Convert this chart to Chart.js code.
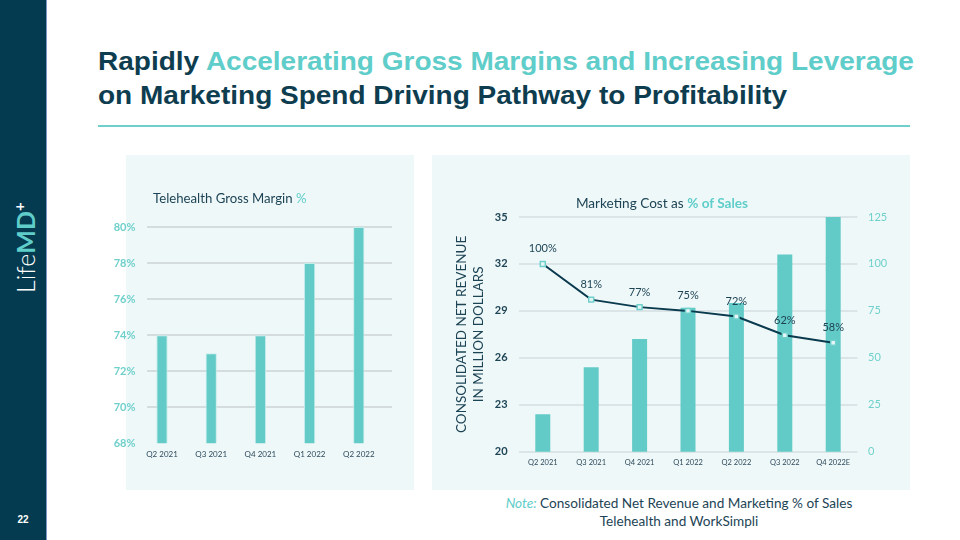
<!DOCTYPE html>
<html>
<head>
<meta charset="utf-8">
<script src="https://cdn.jsdelivr.net/npm/chart.js@4"></script>
<style>
  body{margin:0;width:960px;height:540px;background:#fff;position:relative;overflow:hidden;font-family:Lato,sans-serif;}
  .abs{position:absolute;}
  #side{left:0;top:0;width:46px;height:540px;background:#053b50;border-right:1px solid #7d97c4;}
  #logo{left:-28px;top:231px;width:100px;text-align:center;transform:rotate(-90deg);font-size:25px;line-height:28px;color:#fff;white-space:nowrap;}
  #logo .l{font-weight:300;}
  #logo .m{font-weight:700;color:#5fcdc9;}
  #logo sup{font-size:15px;font-weight:700;color:#fff;}
  #pg{left:0;top:514px;width:46px;text-align:center;color:#fff;font:bold 10px "Liberation Sans",Arial,sans-serif;}
  #title{left:98px;top:43.5px;font:bold 25px "Liberation Sans",Arial,sans-serif;line-height:34px;color:#0e3d50;white-space:nowrap;transform:scaleX(1.12);transform-origin:0 0;}
  .teal{color:#5fcdc9;}
  #rule{left:98px;top:125px;width:812px;height:2px;background:#6fcfcb;}
  .panel{background:#eff8f9;}
  #p1{left:126px;top:155px;width:288px;height:335px;}
  #p2{left:432px;top:155px;width:478px;height:335px;}
  #c1wrap{left:100px;top:155px;width:314px;height:335px;}
  #c2wrap{left:432px;top:155px;width:478px;height:335px;}
  #t1{left:153px;top:190px;font-size:13.2px;line-height:16px;color:#1d4455;white-space:nowrap;}
  #t2{left:542px;top:195px;width:240px;text-align:center;font-size:13.6px;line-height:16px;color:#1d4455;white-space:nowrap;}
  #t2 .teal{font-weight:700;}
  #note{left:459px;top:494px;width:440px;text-align:center;font-size:13.6px;line-height:18px;color:#1d4455;}
  #note i{color:#5fcdc9;}
</style>
</head>
<body>
<div id="side" class="abs"></div>
<div id="logo" class="abs"><span class="l">Life</span><span class="m">MD</span><sup>+</sup></div>
<div id="pg" class="abs">22</div>
<div id="title" class="abs">Rapidly <span class="teal">Accelerating Gross Margins and Increasing Leverage</span><br>on Marketing Spend Driving Pathway to Profitability</div>
<div id="rule" class="abs"></div>
<div id="p1" class="abs panel"></div>
<div id="p2" class="abs panel"></div>
<div id="c1wrap" class="abs"><canvas id="marginChart"></canvas></div>
<div id="c2wrap" class="abs"><canvas id="marketingChart"></canvas></div>
<div id="t1" class="abs">Telehealth Gross Margin <span class="teal">%</span></div>
<div id="t2" class="abs">Marketing Cost as <span class="teal">% of Sales</span></div>
<div id="note" class="abs"><i>Note:</i> Consolidated Net Revenue and Marketing % of Sales<br>Telehealth and WorkSimpli</div>
<script>
// chart values
const marginQuarters = ['Q2 2021', 'Q3 2021', 'Q4 2021', 'Q1 2022', 'Q2 2022'];
const grossMargin = [74, 73, 74, 78, 80];

const revenueQuarters = ['Q2 2021', 'Q3 2021', 'Q4 2021', 'Q1 2022', 'Q2 2022', 'Q3 2022', 'Q4 2022E'];
const netRevenue = [22.4, 25.4, 27.2, 29.2, 29.5, 32.6, 35];
const marketingPct = [100, 81, 77, 75, 72, 62, 58];

const teal = '#63cbc7';
const dark = '#1d4455';

// grid lines for the margin chart sit a bit to the right of the bars
const offsetGrid = {
    id: 'offsetGrid',
    beforeDatasetsDraw(chart, args, opts){
        const {ctx, chartArea, scales: {y}} = chart;
        ctx.save();
        ctx.strokeStyle = opts.color;
        ctx.lineWidth = opts.width;
        y.ticks.forEach(t => {
            if (t.value <= y.min) return;
            const py = Math.round(y.getPixelForValue(t.value));
            ctx.beginPath();
            ctx.moveTo(chartArea.left + opts.shiftLeft, py);
            ctx.lineTo(chartArea.right + opts.shiftRight, py);
            ctx.stroke();
        });
        ctx.restore();
    }
};

// percent labels above the line points
const pointLabels = {
    id: 'pointLabels',
    afterDatasetsDraw(chart){
        const {ctx} = chart;
        const meta = chart.getDatasetMeta(1);
        ctx.save();
        ctx.font = '11px Lato';
        ctx.fillStyle = dark;
        ctx.textAlign = 'center';
        ctx.textBaseline = 'middle';
        meta.data.forEach((pt, i) => {
            ctx.fillText(marketingPct[i] + '%', pt.x, pt.y - 15);
        });
        ctx.restore();
    }
};

new Chart(document.getElementById('marginChart'), {
    type: 'bar',
    data: {
        labels: marginQuarters,
        datasets: [{
            data: grossMargin,
            backgroundColor: teal,
            borderColor: '#c4ecea',
            borderWidth: 1,
            categoryPercentage: 1,
            barPercentage: 0.23
        }]
    },
    options: {
        responsive: true,
        maintainAspectRatio: false,
        animation: false,
        layout: {padding: {top: 72, right: 30.6, left: 0, bottom: 0}},
        plugins: {
            legend: {display: false},
            tooltip: {enabled: false},
            offsetGrid: {color: '#cdd3d5', width: 1.5, shiftLeft: 9.6, shiftRight: 8.6}
        },
        scales: {
            x: {
                grid: {display: false, drawTicks: false},
                border: {display: false},
                ticks: {color: '#2e4a5a', font: {family: 'Lato', size: 8}, padding: 6, maxRotation: 0},
                afterFit(scale){ scale.height = 46.7; }
            },
            y: {
                min: 68,
                max: 80,
                grid: {display: false, drawTicks: false},
                border: {display: false},
                ticks: {
                    stepSize: 2,
                    color: '#6fd0cb',
                    font: {family: 'Lato', size: 11, weight: 'bold'},
                    padding: 2,
                    callback: function(value){ return value + '%'; }
                },
                afterFit(scale){ scale.width = 37.4; }
            }
        }
    },
    plugins: [offsetGrid]
});

new Chart(document.getElementById('marketingChart'), {
    type: 'bar',
    data: {
        labels: revenueQuarters,
        datasets: [{
            type: 'bar',
            data: netRevenue,
            yAxisID: 'y',
            backgroundColor: teal,
            categoryPercentage: 1,
            barPercentage: 0.31,
            order: 1
        }, {
            type: 'line',
            data: marketingPct,
            yAxisID: 'y1',
            borderColor: '#0a3a4e',
            borderWidth: 2,
            tension: 0,
            pointStyle: 'rect',
            pointRadius: 3.5,
            pointBackgroundColor: '#e6f6f6',
            pointBorderColor: '#6fd0cb',
            pointBorderWidth: 1.5,
            order: 0
        }]
    },
    options: {
        responsive: true,
        maintainAspectRatio: false,
        animation: false,
        layout: {padding: {top: 62, right: 0, left: 0, bottom: 0}},
        plugins: {
            legend: {display: false},
            tooltip: {enabled: false}
        },
        scales: {
            x: {
                grid: {display: false, drawTicks: false},
                border: {display: false},
                ticks: {color: '#2e4a5a', font: {family: 'Lato', size: 7.5}, padding: 6, maxRotation: 0},
                afterFit(scale){ scale.height = 38.3; }
            },
            y: {
                position: 'left',
                min: 20,
                max: 35,
                grid: {color: '#dbe4e6', lineWidth: 2, drawTicks: false},
                border: {display: false},
                ticks: {stepSize: 3, color: dark, font: {family: 'Lato', size: 11, weight: 'bold'}, padding: 11},
                title: {
                    display: true,
                    text: ['CONSOLIDATED NET REVENUE', 'IN MILLION DOLLARS'],
                    color: dark,
                    font: {family: 'Lato', size: 13.5},
                    padding: {top: 22, bottom: 0}
                },
                afterFit(scale){ scale.width = 86.6; }
            },
            y1: {
                position: 'right',
                min: 0,
                max: 125,
                grid: {display: false, drawTicks: false},
                border: {display: false},
                ticks: {stepSize: 25, color: '#6fd0cb', font: {family: 'Lato', size: 11}, padding: 10.6},
                afterFit(scale){ scale.width = 52.6; }
            }
        }
    },
    plugins: [pointLabels]
});
</script>
</body>
</html>
